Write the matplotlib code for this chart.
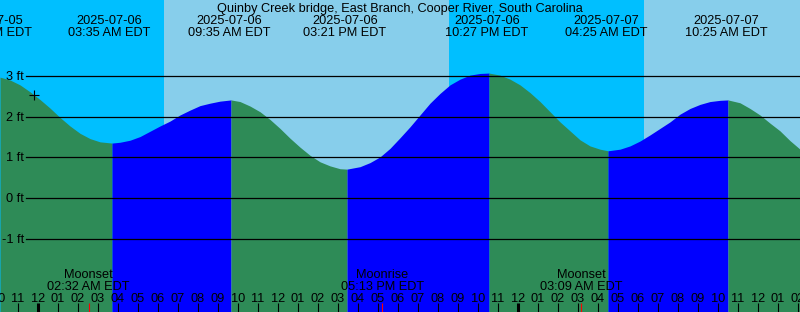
import matplotlib
matplotlib.use("Agg")
import matplotlib.pyplot as plt

plt.rcParams["font.family"] = ["Liberation Sans", "DejaVu Sans"]

NIGHT = "#00bfff"
DAY = "#87ceeb"
EBB = "#2e8b57"
FLOOD = "#0000ff"

# hours after 2025-07-06 00:00 EDT, tide height in ft
hours = [-1.9, -1.4, -0.9, -0.4, 0.1, 0.6, 1.1, 1.6, 2.1, 2.6, 3.1, 3.7,
         4.1, 4.6, 5.1, 5.6, 6.1, 6.6, 7.1, 7.6, 8.1, 8.6, 9.1, 9.65,
         10.1, 10.6, 11.1, 11.6, 12.1, 12.6, 13.1, 13.6, 14.1, 14.6, 15.1, 15.45,
         16.1, 16.6, 17.1, 17.6, 18.1, 18.6, 19.1, 19.6, 20.1, 20.6, 21.1, 21.6, 22.1, 22.55,
         23.1, 23.6, 24.1, 24.6, 25.1, 25.6, 26.1, 26.6, 27.1, 27.6, 28.1, 28.5,
         29.1, 29.6, 30.1, 30.6, 31.1, 31.6, 32.1, 32.6, 33.1, 33.6, 34.1, 34.5,
         35.1, 35.6, 36.1, 36.6, 37.1, 37.6, 38.1]
heights = [2.97, 2.90, 2.78, 2.61, 2.42, 2.21, 1.98, 1.77, 1.59, 1.46, 1.38, 1.35,
           1.37, 1.42, 1.51, 1.64, 1.77, 1.89, 2.04, 2.16, 2.27, 2.33, 2.38, 2.41,
           2.37, 2.26, 2.12, 1.93, 1.71, 1.47, 1.25, 1.05, 0.89, 0.79, 0.72, 0.71,
           0.77, 0.87, 1.01, 1.22, 1.48, 1.75, 2.04, 2.33, 2.57, 2.78, 2.92, 3.02, 3.06, 3.07,
           3.02, 2.92, 2.78, 2.59, 2.37, 2.12, 1.87, 1.65, 1.43, 1.28, 1.20, 1.16,
           1.20, 1.28, 1.40, 1.55, 1.71, 1.87, 2.06, 2.20, 2.30, 2.37, 2.40, 2.41,
           2.34, 2.20, 2.04, 1.84, 1.65, 1.41, 1.20]
extreme_hours = [3.7, 9.65, 15.45, 22.55, 28.5, 34.5]

sun_hours = [6.3, 20.55, 30.3]  # sunrise, sunset, sunrise

event_hours = [-2.37, 3 + 35 / 60, 9 + 35 / 60, 15 + 21 / 60,
               22 + 27 / 60, 28 + 25 / 60, 34 + 25 / 60]
event_dates = ["2025-07-05", "2025-07-06", "2025-07-06", "2025-07-06",
               "2025-07-06", "2025-07-07", "2025-07-07"]
event_times = ["09:38 PM EDT", "03:35 AM EDT", "09:35 AM EDT", "03:21 PM EDT",
               "10:27 PM EDT", "04:25 AM EDT", "10:25 AM EDT"]

moon_hours = [2 + 32 / 60, 17 + 13 / 60, 27 + 9 / 60]
moon_names = ["Moonset", "Moonrise", "Moonset"]
moon_times = ["02:32 AM EDT", "05:13 PM EDT", "03:09 AM EDT"]

depth_levels = [-1, 0, 1, 2, 3]
now_hour, now_height = -0.2, 2.53

title = "Quinby Creek bridge, East Branch, Cooper River, South Carolina"

x0, x1 = -1.9, 38.1
y0, y1 = -2.80, 4.865
FS = 9.2

fig = plt.figure(figsize=(8, 3.12), dpi=100)
ax = fig.add_axes([0, 0, 1, 1])
ax.set_xlim(x0, x1)
ax.set_ylim(y0, y1)
ax.axis("off")

# day / night background
edges = [x0] + sun_hours + [x1]
for i in range(len(edges) - 1):
    ax.axvspan(edges[i], edges[i + 1], color=NIGHT if i % 2 == 0 else DAY, lw=0, zorder=0)

# falling (green) / rising (blue) water
bounds = [hours[0]] + extreme_hours + [hours[-1]]
for i in range(len(bounds) - 1):
    seg = [(t, h) for t, h in zip(hours, heights) if bounds[i] <= t <= bounds[i + 1]]
    ts = [s[0] for s in seg]
    hs = [s[1] for s in seg]
    ax.fill_between(ts, hs, y0 - 1, color=EBB if i % 2 == 0 else FLOOD, lw=0, zorder=1)

xt = ax.get_xaxis_transform()
yt = ax.get_yaxis_transform()
for lvl in depth_levels:
    ax.axhline(lvl, xmin=26 / 800, color="black", lw=0.9, zorder=2)
    ax.text(24 / 800, lvl - 0.098, f"{lvl} ft", transform=yt, ha="right",
            va="baseline", fontsize=FS)

ax.text(0.5, 0.9615, title, transform=ax.transAxes, ha="center", va="baseline", fontsize=FS)
for t, d, s in zip(event_hours, event_dates, event_times):
    ax.text(t, 0.9231, d, transform=xt, ha="center", va="baseline", fontsize=FS)
    ax.text(t, 0.8846, s, transform=xt, ha="center", va="baseline", fontsize=FS)

for t, n, s in zip(moon_hours, moon_names, moon_times):
    ax.text(t, 0.1090, n, transform=xt, ha="center", va="baseline", fontsize=FS, zorder=4)
    ax.text(t, 0.0705, s, transform=xt, ha="center", va="baseline", fontsize=FS, zorder=4)

# hour ticks along the bottom
for h in range(-2, 39):
    ax.text(h, 0.0330, f"{(h % 24 + 11) % 12 + 1:02d}", transform=xt,
            ha="center", va="baseline", fontsize=FS, zorder=4)
    ax.vlines(h, 0, 0.029, transform=xt, color="black",
              lw=2.2 if h % 24 == 0 else 0.8, zorder=3)
ax.vlines(moon_hours, 0, 0.029, transform=xt, color="red", lw=0.8, zorder=3)

ax.plot([now_hour], [now_height], marker="+", color="black", ms=7, mew=0.8, zorder=4)

fig.savefig("out.png", dpi=100)
